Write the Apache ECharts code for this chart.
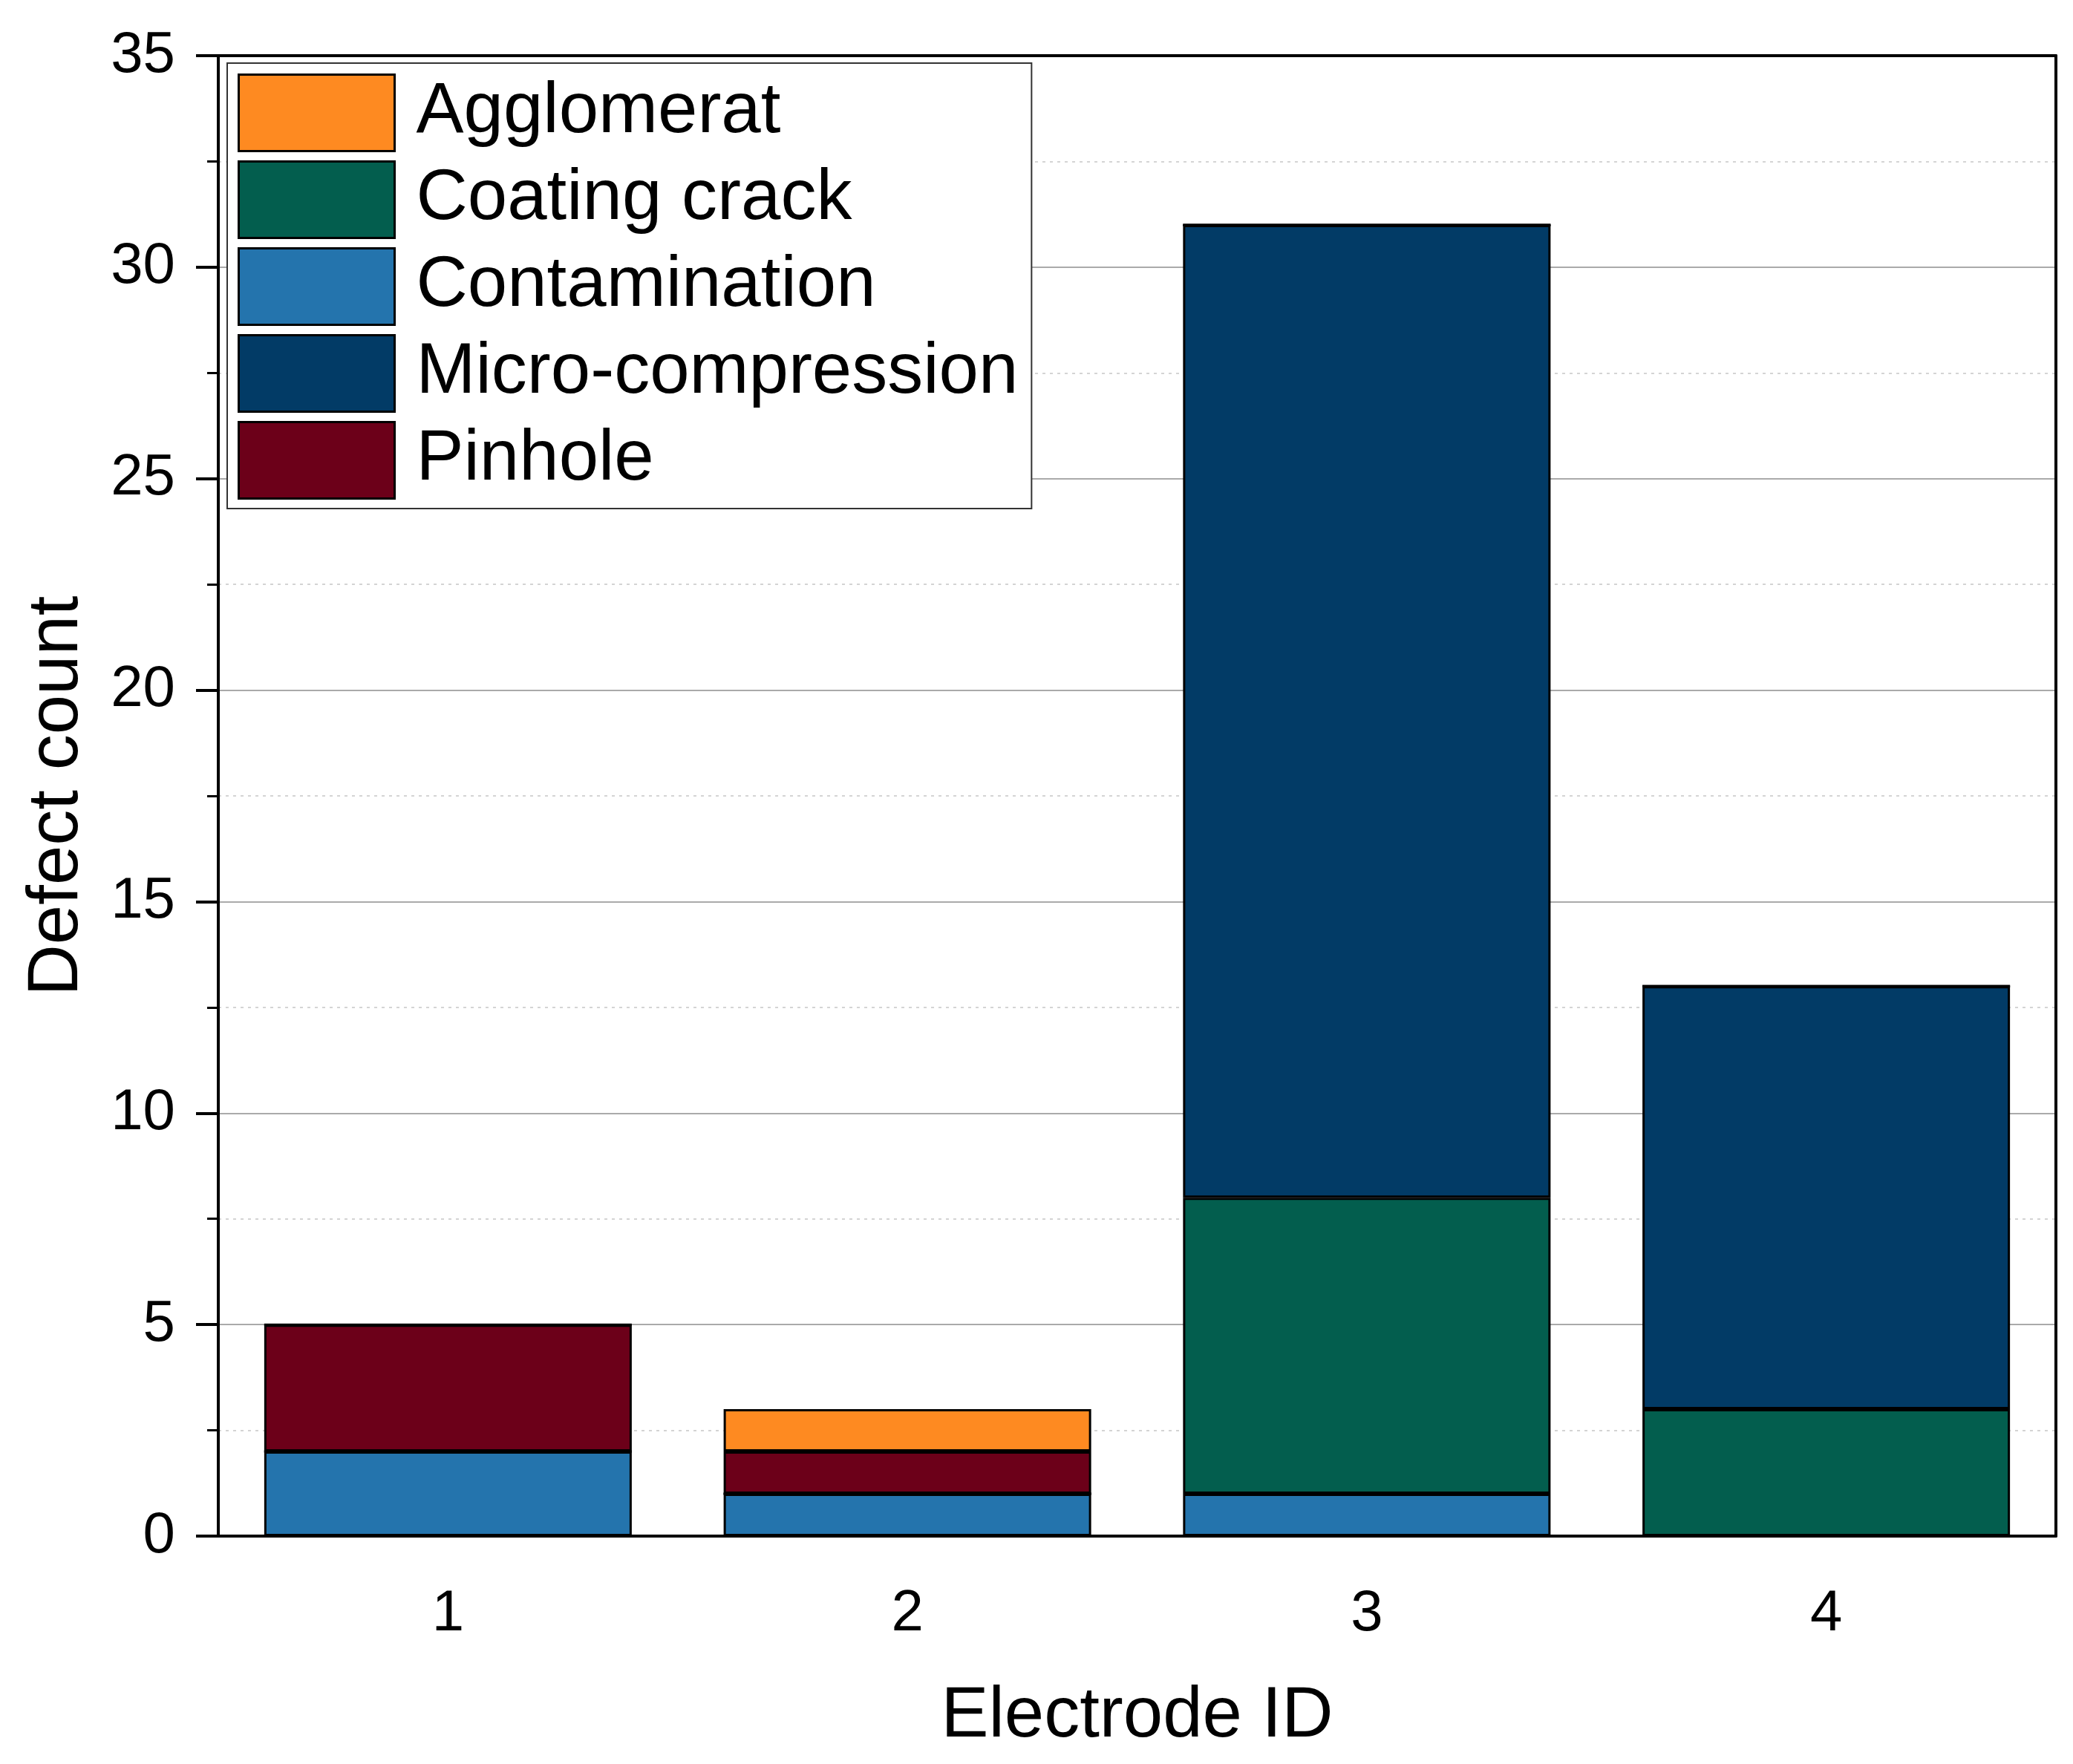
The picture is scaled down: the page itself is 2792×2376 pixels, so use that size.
<!DOCTYPE html>
<html>
<head>
<meta charset="utf-8">
<script src="https://cdn.jsdelivr.net/npm/echarts@6/dist/echarts.min.js"></script>
<style>
html,body{margin:0;padding:0;background:#fff;}
#chart{width:2792px;height:2376px;}
</style>
</head>
<body>
<div id="chart"></div>
<script>
const categories = ['1', '2', '3', '4'];
const agglomerat = [0, 1, 0, 0];
const coatingCrack = [0, 0, 7, 3];
const contamination = [2, 1, 1, 0];
const microCompression = [0, 0, 23, 10];
const pinhole = [3, 1, 0, 0];
const yTicks = [0, 5, 10, 15, 20, 25, 30, 35];

const legendOrder = ['Agglomerat', 'Coating crack', 'Contamination', 'Micro-compression', 'Pinhole'];
const colors = {
  'Agglomerat': '#FE8A21',
  'Coating crack': '#035E4E',
  'Contamination': '#2474AD',
  'Micro-compression': '#023B66',
  'Pinhole': '#6C0019'
};
// stacking order bottom -> top
const stackSeries = [
  ['Contamination', contamination],
  ['Coating crack', coatingCrack],
  ['Micro-compression', microCompression],
  ['Pinhole', pinhole],
  ['Agglomerat', agglomerat]
];

const FONT = '"Liberation Sans", Arial, sans-serif';
const chart = echarts.init(document.getElementById('chart'));
chart.setOption({
  backgroundColor: '#fff',
  animation: false,
  textStyle: { fontFamily: FONT },
  grid: {
    left: 294, right: 23, top: 75, bottom: 307,
    show: false
  },
  legend: {
    data: legendOrder,
    orient: 'vertical',
    left: 306, top: 85,
    backgroundColor: '#fff',
    borderColor: '#333',
    borderWidth: 2,
    padding: [14, 18, 12, 14],
    itemWidth: 210,
    itemHeight: 103,
    itemGap: 11,
    icon: 'rect',
    itemStyle: { borderColor: '#000', borderWidth: 3 },
    textStyle: { fontSize: 96, lineHeight: 100, color: '#000', fontFamily: FONT, padding: [0, 0, 0, 24] }
  },
  xAxis: [{
    type: 'category',
    data: categories,
    name: 'Electrode ID',
    nameLocation: 'middle',
    nameGap: 196,
    nameTextStyle: { fontSize: 96, color: '#000', fontFamily: FONT },
    axisLine: { lineStyle: { color: '#000', width: 4 } },
    axisTick: { alignWithLabel: true, length: 36, lineStyle: { color: '#000', width: 3 } },
    axisLabel: { fontSize: 78, color: '#000', margin: 66, fontFamily: FONT },
    splitLine: { show: false }
  }, {
    type: 'category',
    data: categories,
    position: 'top',
    axisLine: { show: true, onZero: false, lineStyle: { color: '#000', width: 4 } },
    axisTick: { show: false },
    axisLabel: { show: false },
    splitLine: { show: false }
  }],
  yAxis: [{
    type: 'value',
    min: 0, max: 35, interval: 5,
    name: 'Defect count',
    nameLocation: 'middle',
    nameGap: 168,
    nameTextStyle: { fontSize: 96, color: '#000', fontFamily: FONT },
    axisLine: { show: true, lineStyle: { color: '#000', width: 4 } },
    axisTick: { show: true, length: 30, lineStyle: { color: '#000', width: 4 } },
    minorTick: { show: true, splitNumber: 2, length: 15, lineStyle: { color: '#000', width: 3 } },
    axisLabel: {
      fontSize: 78, color: '#000', margin: 58, fontFamily: FONT,
      formatter: function (v) { return yTicks.indexOf(v) >= 0 ? String(v) : ''; }
    },
    splitLine: { show: true, showMinLine: false, showMaxLine: false, lineStyle: { color: '#aaaaaa', width: 2 } },
    minorSplitLine: { show: true, lineStyle: { color: '#d4d4d4', width: 2, type: [4, 6] } }
  }, {
    type: 'value',
    min: 0, max: 35, interval: 5,
    position: 'right',
    axisLine: { show: true, onZero: false, lineStyle: { color: '#000', width: 4 } },
    axisTick: { show: false },
    axisLabel: { show: false },
    splitLine: { show: false }
  }],
  series: stackSeries.map(function (s) {
    return {
      name: s[0],
      type: 'bar',
      stack: 'total',
      data: s[1],
      barCategoryGap: '20%',
      itemStyle: { color: colors[s[0]], borderColor: '#000', borderWidth: 3 }
    };
  })
});
</script>
</body>
</html>
